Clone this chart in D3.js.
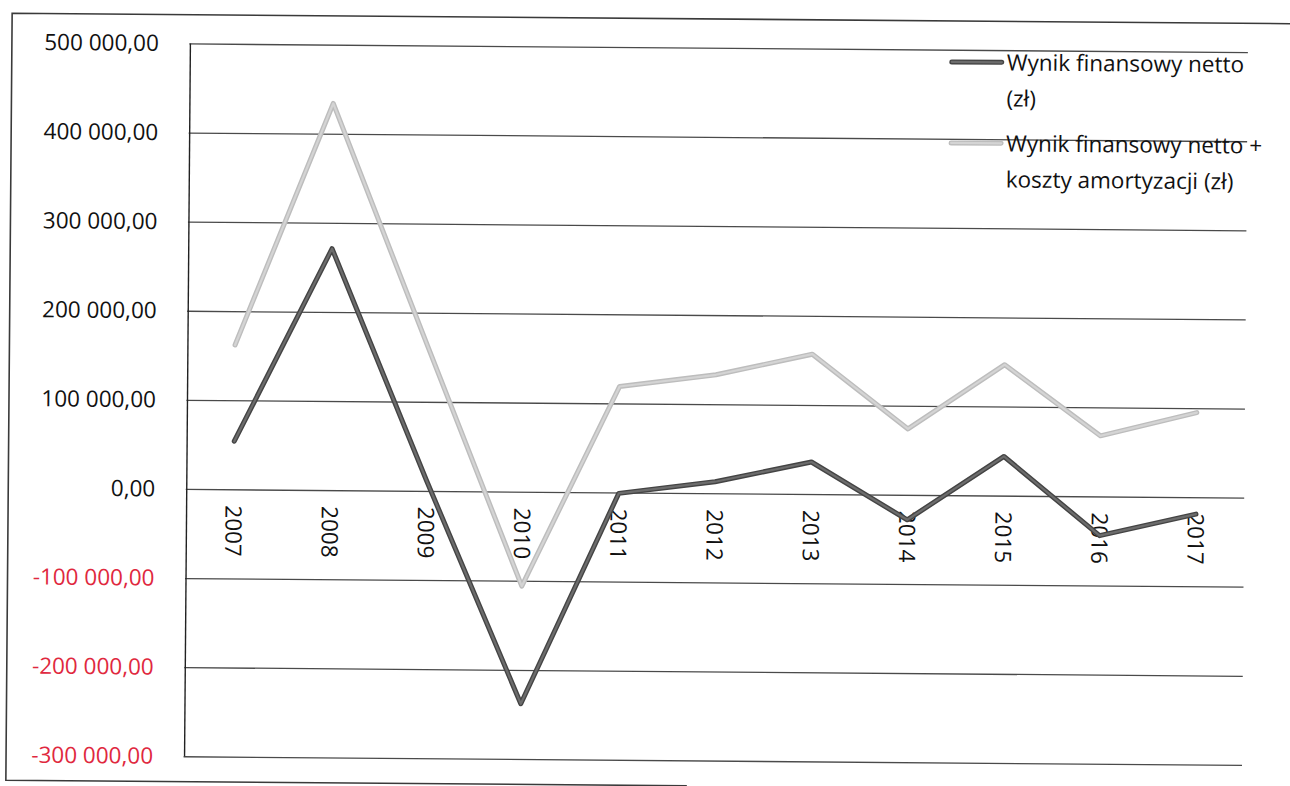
<!DOCTYPE html>
<html>
<head>
<meta charset="utf-8">
<script src="https://cdn.jsdelivr.net/npm/d3@7"></script>
<style>
  html, body { margin: 0; padding: 0; background: #fff; }
  svg { display: block; }
  text { font-family: "Open Sans", "Noto Sans", sans-serif; }
</style>
</head>
<body>
<svg id="chart" width="1290" height="786"></svg>
<script>
// ---- data ----
const years = ["2007","2008","2009","2010","2011","2012","2013","2014","2015","2016","2017"];
const wynikNetto = [54000, 271000, 12000, -238000, -1000, 13000, 36000, -28000, 44000, -44000, -19000];
const wynikNettoAmort = [162000, 434000, 163000, -106000, 119000, 133000, 157000, 74000, 147000, 68000, 95000];
const yTicks = [500000, 400000, 300000, 200000, 100000, 0, -100000, -200000, -300000];
const seriesNames = [["Wynik finansowy netto", "(zł)"], ["Wynik finansowy netto +", "koszty amortyzacji (zł)"]];

// ---- layout ----
const svg = d3.select("#chart");
const root = svg.append("g").attr("transform", "rotate(0.47,717,400)");

const plot = { left: 186.5, right: 1245, top: 47.8, bottom: 760.6 };
const FS = 22.5;

const x = d3.scaleBand().domain(years).range([plot.left, plot.right]).padding(0);
const y = d3.scaleLinear().domain([-300000, 500000]).range([plot.bottom, plot.top]);

const loc = d3.formatLocale({ decimal: ",", thousands: " ", grouping: [3], currency: ["", ""], minus: "-" });
const fmt = loc.format(",.2f");

// outer frame (partial bottom as in the scan)
root.append("path")
  .attr("d", "M690,786 L9,786 L9,19 L1300,19")
  .attr("fill", "none").attr("stroke", "#3a3a3a").attr("stroke-width", 1.6);

// gridlines via axis
const yGrid = d3.axisLeft(y).tickValues(yTicks).tickSize(-(plot.right - plot.left)).tickFormat("");
const gGrid = root.append("g").attr("transform", `translate(${plot.left},0)`).call(yGrid);
gGrid.select(".domain").remove();
gGrid.selectAll(".tick line").attr("stroke", "#4a4a4a").attr("stroke-width", 1.3);

// vertical axis line
root.append("line")
  .attr("x1", plot.left + 1).attr("x2", plot.left + 1)
  .attr("y1", y(500000)).attr("y2", y(-300000))
  .attr("stroke", "#222").attr("stroke-width", 1.4);

// y labels
const yAxis = d3.axisLeft(y).tickValues(yTicks).tickSize(0).tickPadding(0).tickFormat(fmt);
const gY = root.append("g").attr("transform", "translate(156,0)").call(yAxis);
gY.select(".domain").remove();
gY.selectAll(".tick text")
  .attr("font-family", "'Open Sans', sans-serif")
  .attr("font-size", FS)
  .attr("fill", d => d < 0 ? "#e0283e" : "#111");

// x labels (rotated) at zero line
const xAxis = d3.axisBottom(x).tickSize(0).tickPadding(0);
const gX = root.append("g").attr("transform", `translate(0,${y(0)})`).call(xAxis);
gX.select(".domain").remove();
gX.selectAll(".tick text")
  .attr("font-family", "'Open Sans', sans-serif")
  .attr("font-size", FS)
  .attr("fill", "#111")
  .attr("text-anchor", "start")
  .attr("transform", "rotate(90)")
  .attr("x", 16)
  .attr("y", 0)
  .attr("dy", "0.36em");

// lines
const line = d3.line().x((d, i) => x(years[i]) + x.bandwidth() / 2).y(d => y(d));

function drawSeries(data, outer, inner) {
  root.append("path").datum(data).attr("d", line)
    .attr("fill", "none").attr("stroke", outer).attr("stroke-width", 5)
    .attr("stroke-linejoin", "round").attr("stroke-linecap", "round");
  root.append("path").datum(data).attr("d", line)
    .attr("fill", "none").attr("stroke", inner).attr("stroke-width", 2.2)
    .attr("stroke-linejoin", "round").attr("stroke-linecap", "round");
}
drawSeries(wynikNettoAmort, "#bdbdbd", "#d4d4d4");
drawSeries(wynikNetto, "#444444", "#6c6c6c");

// legend
const legend = root.append("g");
const legendItems = [
  { names: seriesNames[0], y: 60, outer: "#444444", inner: "#6c6c6c" },
  { names: seriesNames[1], y: 141, outer: "#bdbdbd", inner: "#d4d4d4" }
];
legendItems.forEach(it => {
  legend.append("line").attr("x1", 949).attr("x2", 999).attr("y1", it.y).attr("y2", it.y)
    .attr("stroke", it.outer).attr("stroke-width", 5).attr("stroke-linecap", "round");
  legend.append("line").attr("x1", 949).attr("x2", 999).attr("y1", it.y).attr("y2", it.y)
    .attr("stroke", it.inner).attr("stroke-width", 2.2).attr("stroke-linecap", "round");
  it.names.forEach((t, k) => {
    legend.append("text").attr("x", 1004).attr("y", it.y + k * 36).attr("dy", "0.36em")
      .attr("font-size", FS).attr("fill", "#111").text(t);
  });
});
</script>
</body>
</html>
